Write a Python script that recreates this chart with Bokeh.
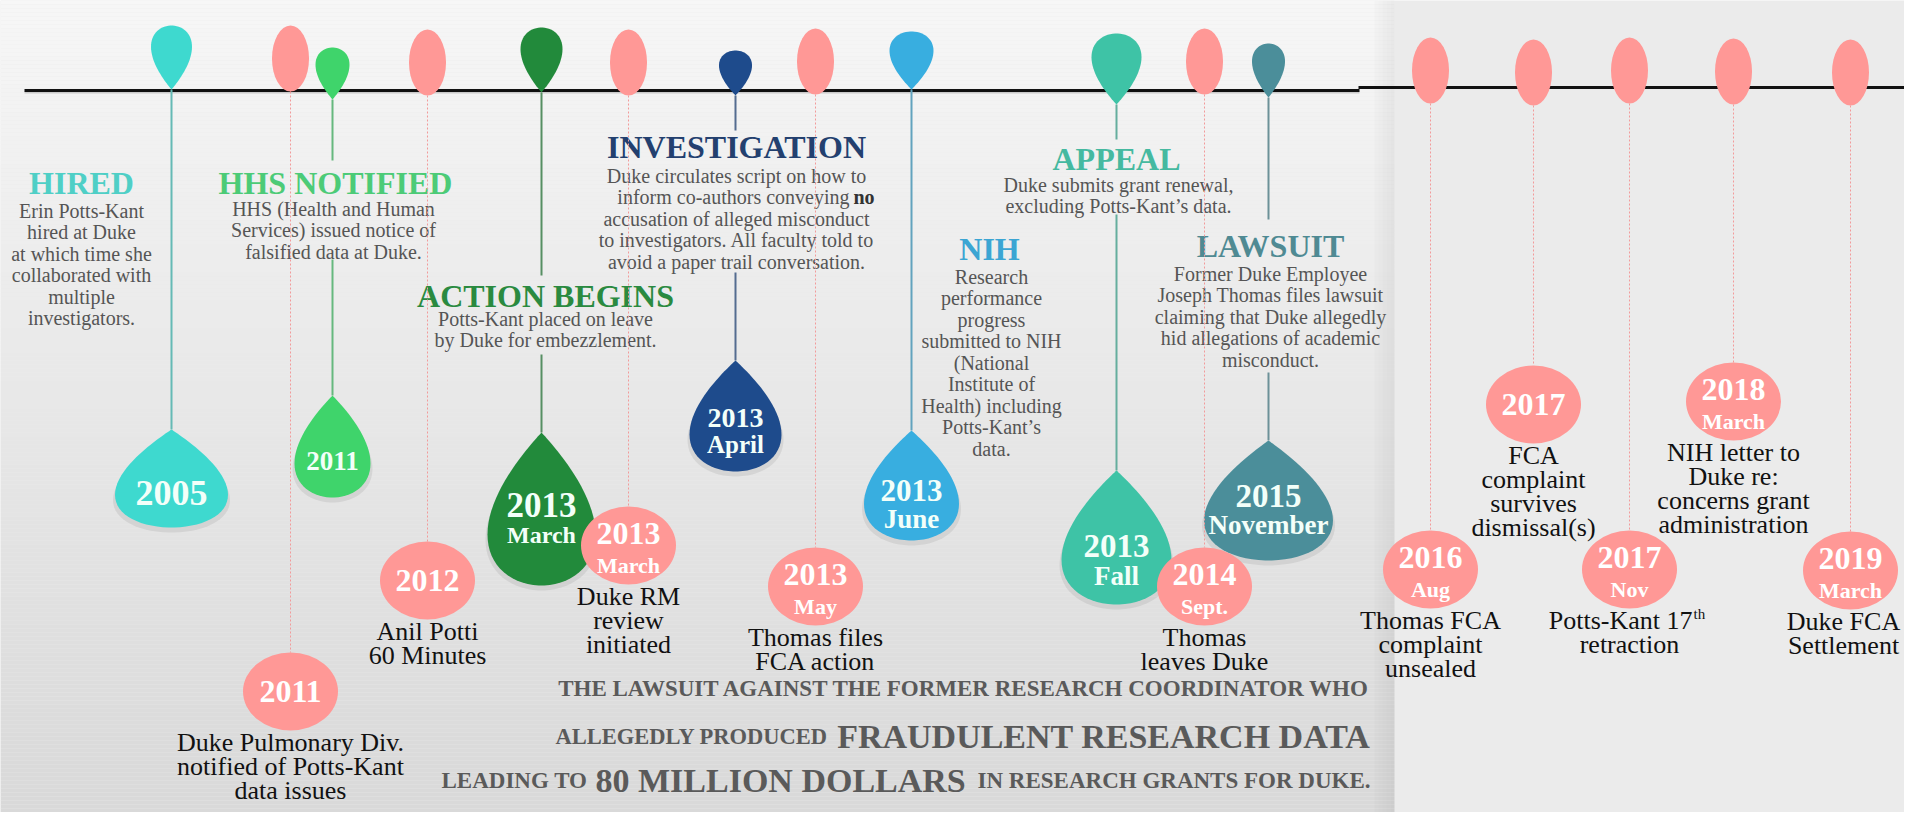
import numpy as np
from bokeh.plotting import figure
from bokeh.models import Range1d
from bokeh.core.properties import value
from bokeh.embed import file_html
from bokeh.resources import INLINE

SERIF = "Liberation Serif"

# ---------------------------------------------------------------- data
# original milestones (teardrop pins)
pin_titles = ["HIRED", "HHS NOTIFIED", "ACTION BEGINS", "INVESTIGATION", "NIH", "APPEAL", "LAWSUIT"]
pin_years = ["2005", "2011", "2013", "2013", "2013", "2013", "2015"]
pin_months = ["", "", "March", "April", "June", "Fall", "November"]
pin_bodies = [
    ["Erin Potts-Kant", "hired at Duke", "at which time she", "collaborated with", "multiple", "investigators."],
    ["HHS (Health and Human", "Services) issued notice of", "falsified data at Duke."],
    ["Potts-Kant placed on leave", "by Duke for embezzlement."],
    ["Duke circulates script on how to", "inform co-authors conveying ", "accusation of alleged misconduct",
     "to investigators. All faculty told to", "avoid a paper trail conversation."],
    ["Research", "performance", "progress", "submitted to NIH", "(National", "Institute of",
     "Health) including", "Potts-Kant\u2019s", "data."],
    ["Duke submits grant renewal,", "excluding Potts-Kant\u2019s data."],
    ["Former Duke Employee", "Joseph Thomas files lawsuit", "claiming that Duke allegedly",
     "hid allegations of academic", "misconduct."],
]
investigation_bold_word = "no"

# added events (pink markers)
event_years = ["2011", "2012", "2013", "2013", "2014", "2016", "2017", "2017", "2018", "2019"]
event_months = ["", "", "March", "May", "Sept.", "Aug", "", "Nov", "March", "March"]
event_texts = [
    ["Duke Pulmonary Div.", "notified of Potts-Kant", "data issues"],
    ["Anil Potti", "60 Minutes"],
    ["Duke RM", "review", "initiated"],
    ["Thomas files", "FCA action"],
    ["Thomas", "leaves Duke"],
    ["Thomas FCA", "complaint", "unsealed"],
    ["FCA", "complaint", "survives", "dismissal(s)"],
    ["Potts-Kant 17", "retraction"],
    ["NIH letter to", "Duke re:", "concerns grant", "administration"],
    ["Duke FCA", "Settlement"],
]
retraction_suffix = "th"

footer_line1 = "THE LAWSUIT AGAINST THE FORMER RESEARCH COORDINATOR WHO"
footer_line2 = ["ALLEGEDLY PRODUCED", "FRAUDULENT RESEARCH DATA"]
footer_line3 = ["LEADING TO", "80 MILLION DOLLARS", "IN RESEARCH GRANTS FOR DUKE."]

# ---------------------------------------------------------------- layout / style
pin_x = [179, 340, 549, 743, 919, 1124, 1276]
pin_head_top = [33, 55, 35, 58, 39, 41, 51]
pin_tip = [97, 107, 100, 103, 97, 112, 105]
pin_w = [41, 34, 42, 33, 44, 50, 33]
drop_tip = [437, 403, 440, 368, 438, 478, 448]
drop_bot = [535, 505, 593, 479, 548, 612, 568]
drop_w = [113, 76, 108, 92, 95, 110, 129]
drop_year_y = [500, 468, 512, 425, 498, 553, 503]
drop_month_y = [0, 0, 542, 452, 526, 583, 532]
drop_year_size = [36, 27, 35, 28, 31, 33, 33]
drop_month_size = [0, 0, 24, 25, 27, 27, 27]
pin_fill = ["#3ed9cf", "#3fd46b", "#228a3b", "#1e4b8c", "#38aee0", "#3ec3a6", "#4b8e9a"]
title_color = ["#4fcfc6", "#4ccb77", "#2a8a40", "#23406f", "#3ba5d3", "#45b9a0", "#4f8a93"]
title_xy = [(89, 190), (343, 190), (553, 303), (744, 154), (997, 256), (1124, 166), (1278, 253)]
body_x = [89, 341, 553, 744, 999, 1126, 1278]
body_y0 = [218, 216, 326, 183, 284, 192, 281]
body_dy = 21.5
conn_segments = [
    [(97, 437)],
    [(107, 168), (267, 403)],
    [(100, 283), (362, 440)],
    [(103, 138), (280, 368)],
    [(97, 438)],
    [(112, 147), (222, 478)],
    [(105, 227), (380, 448)],
]

ev_x = [298, 435, 636, 823, 1212, 1438, 1541, 1637, 1741, 1858]
ev_text_x = [298, 435, 636, 823, 1212, 1438, 1541, 1637, 1741, 1851]
ev_top_cy = [66, 70, 70, 69, 69, 78, 80, 78, 79, 80]
ev_cy = [699, 588, 553, 594, 594, 577, 412, 577, 409, 578]
PINK = "#ff9896"
EV_W, EV_H = 95, 78
TOP_W, TOP_H = 37, 66

W, H = 1904, 812
p = figure(width=W, height=H, x_range=Range1d(8, 1912), y_range=Range1d(820, 8),
           output_backend="svg", toolbar_location=None, min_border=0)
p.axis.visible = False
p.grid.visible = False
p.outline_line_color = None
p.background_fill_color = "#ebebeb"
p.border_fill_color = "#ebebeb"


def txt(x, y, t, size, color, bold=False, align="center", baseline="middle"):
    p.text(x=[x], y=[y], text=[t], text_font=value(SERIF), text_font_size=f"{size}px",
           text_font_style="bold" if bold else "normal", text_color=color,
           text_align=align, text_baseline=baseline)


def teardrop(cx, y_tip, y_far, w, n=80):
    t = np.linspace(0, 2 * np.pi, n)
    u = np.sin(t) * np.sin(t / 2)
    u = u / np.abs(u).max()
    v = (1 - np.cos(t)) / 2
    return list(cx + w / 2 * u), list(y_tip + v * (y_far - y_tip))


def blend(c, g=(150, 150, 150), a=0.45):
    r, gg, b = int(c[1:3], 16), int(c[3:5], 16), int(c[5:7], 16)
    return "#%02x%02x%02x" % (int(r * (1 - a) + g[0] * a), int(gg * (1 - a) + g[1] * a), int(b * (1 - a) + g[2] * a))


# background: left panel gradient, right panel flat
ys = np.arange(8, 820, 4)
c0, c1 = np.array([247, 247, 247]), np.array([217, 217, 217])
cols = ["#%02x%02x%02x" % tuple((c0 + (c1 - c0) * ((y - 8) / 812)).astype(int)) for y in ys]
p.quad(left=8, right=1402, top=ys, bottom=ys + 4, fill_color=cols, line_color=None)
for i, a in enumerate([0.015, 0.025, 0.035, 0.045, 0.05]):
    p.quad(left=1382 + 4 * i, right=1386 + 4 * i, top=8, bottom=820, fill_color="black",
           fill_alpha=a, line_color=None)

# timeline
p.line([1366, 1912], [95, 95], line_width=3, line_color="#111111")
p.line([32, 1367], [100, 100], line_width=2, line_color="#bbbbbb", line_alpha=0.7)
p.line([32, 1367], [98, 98], line_width=3, line_color="#111111")

# connectors
for i, segs in enumerate(conn_segments):
    for (a, b) in segs:
        p.segment(x0=[pin_x[i]], y0=[a], x1=[pin_x[i]], y1=[b], line_width=2,
                  line_color=blend(pin_fill[i]))

# top pins (head up, tip at the line)
xs_all, ys_all = [], []
for i in range(len(pin_x)):
    xs, yv = teardrop(pin_x[i], pin_tip[i], pin_head_top[i], pin_w[i])
    xs_all.append(xs); ys_all.append(yv)
p.patches(xs_all, ys_all, fill_color=pin_fill, line_color=None)

# bottom droplets (tip up) with soft shadow
sx, sy, dx, dy = [], [], [], []
for i in range(len(pin_x)):
    xs, yv = teardrop(pin_x[i], drop_tip[i], drop_bot[i], drop_w[i])
    dx.append(xs); dy.append(yv)
    xs2, yv2 = teardrop(pin_x[i], drop_tip[i] + 6, drop_bot[i] + 5, drop_w[i] + 4)
    sx.append(xs2); sy.append(yv2)
p.patches(sx, sy, fill_color="black", fill_alpha=0.07, line_color=None)
p.patches(dx, dy, fill_color=pin_fill, line_color=None)

for i in range(len(pin_x)):
    txt(pin_x[i], drop_year_y[i], pin_years[i], drop_year_size[i], "#f3fff9", bold=True)
    if pin_months[i]:
        txt(pin_x[i], drop_month_y[i], pin_months[i], drop_month_size[i], "#f3fff9", bold=True)

# titles and bodies
for i in range(len(pin_x)):
    tx, ty = title_xy[i]
    txt(tx, ty, pin_titles[i], 32, title_color[i], bold=True)
    for k, line in enumerate(pin_bodies[i]):
        y = body_y0[i] + k * body_dy
        if i == 3 and k == 1:
            txt(857, y, line.rstrip(), 20, "#555555", align="right")
            txt(861, y, investigation_bold_word, 20, "#333333", bold=True, align="left")
        else:
            txt(body_x[i], y, line, 20, "#555555")

# footer
FOOT = "#5a5a5a"
txt(972, 696, footer_line1, 23, FOOT, bold=True, baseline="alphabetic")
txt(563, 744, footer_line2[0], 22.5, FOOT, bold=True, align="left", baseline="alphabetic")
txt(1378, 744, footer_line2[1], 34, FOOT, bold=True, align="right", baseline="alphabetic")
txt(449, 788, footer_line3[0], 23, FOOT, bold=True, align="left", baseline="alphabetic")
txt(603, 788, footer_line3[1], 34, FOOT, bold=True, align="left", baseline="alphabetic")
txt(1378, 788, footer_line3[2], 23, FOOT, bold=True, align="right", baseline="alphabetic")

# pink dotted drop lines
p.segment(x0=ev_x, y0=[c + TOP_H / 2 for c in ev_top_cy], x1=ev_x, y1=[c - EV_H / 2 for c in ev_cy],
          line_color="#f29a9a", line_width=1, line_dash="2 2")

# pink markers
p.ellipse(x=ev_x, y=ev_top_cy, width=TOP_W, height=TOP_H, fill_color=PINK, line_color=None)
p.ellipse(x=ev_x, y=ev_cy, width=EV_W, height=EV_H, fill_color=PINK, line_color=None)

for i in range(len(ev_x)):
    if event_months[i]:
        txt(ev_x[i], ev_cy[i] - 12, event_years[i], 32, "white", bold=True)
        txt(ev_x[i], ev_cy[i] + 20, event_months[i], 22, "white", bold=True)
    else:
        txt(ev_x[i], ev_cy[i], event_years[i], 32, "white", bold=True)
    for k, line in enumerate(event_texts[i]):
        y = ev_cy[i] + EV_H / 2 + 12 + k * 24
        if line.endswith("17"):
            txt(ev_text_x[i] + 63, y, line, 26, "#111111", align="right")
            txt(ev_text_x[i] + 64, y - 7, retraction_suffix, 15, "#111111", align="left")
        else:
            txt(ev_text_x[i], y, line, 26, "#111111")

open("out.html", "w").write(file_html(p, INLINE))
